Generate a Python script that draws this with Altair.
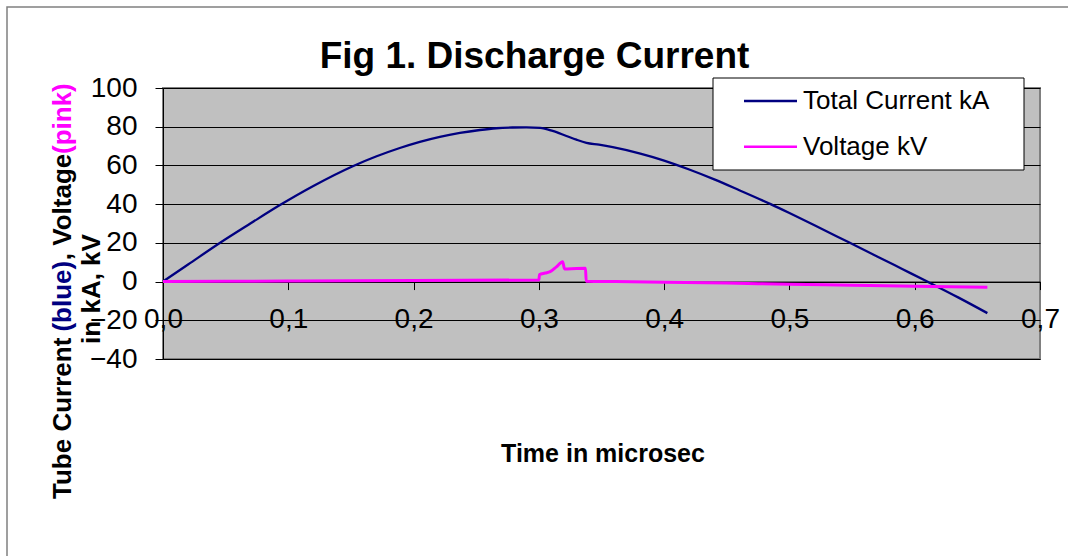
import altair as alt
import pandas as pd

# ---- data ----
series_names = ["Total Current kA", "Voltage kV"]
series_colors = ["#000080", "#FF00FF"]

t_current = [0, 0.02, 0.045, 0.07, 0.093, 0.12, 0.1515, 0.17, 0.189, 0.205, 0.221, 0.237,
             0.253, 0.266, 0.279, 0.29, 0.301, 0.311, 0.322, 0.33, 0.338, 0.348, 0.359,
             0.381, 0.40, 0.42, 0.44, 0.46, 0.485, 0.50, 0.52, 0.547, 0.57, 0.59, 0.61,
             0.635, 0.658]
i_current = [0, 8.8, 19.8, 30.1, 39.4, 49.4, 59.6, 64.6, 69.0, 72.2, 74.8, 76.8,
             78.3, 79.2, 79.6, 79.7, 79.4, 77.8, 75.2, 73.3, 71.7, 70.7, 69.4,
             66.1, 62.5, 57.9, 52.8, 47.2, 40.0, 35.4, 29.1, 20.4, 13.0, 6.5, 0,
             -8.3, -16.3]

t_voltage = [0, 0.1, 0.2, 0.3, 0.3005, 0.305, 0.309, 0.314, 0.319, 0.3205, 0.33, 0.3372,
             0.3378, 0.36, 0.40, 0.45, 0.50, 0.55, 0.60, 0.658]
v_voltage = [0, 0.3, 0.6, 0.8, 3.6, 4.4, 5.1, 7.6, 10.3, 6.5, 6.8, 6.9,
             0.2, 0, -0.3, -0.8, -1.4, -1.9, -2.4, -2.9]

x_ticks = [0.0, 0.1, 0.2, 0.3, 0.4, 0.5, 0.6, 0.7]
y_ticks = [-40, -20, 0, 20, 40, 60, 80, 100]

chart_title = "Fig 1. Discharge Current"
x_title = "Time in microsec"
y_title_parts = [("Tube Current", "black"), ("(blue)", "#000080"),
                 (", Voltage", "black"), ("(pink)", "#FF00FF")]
y_title_line2 = "in kA, kV"

df_current = pd.DataFrame({"t": t_current, "v": i_current, "series": series_names[0]})
df_voltage = pd.DataFrame({"t": t_voltage, "v": v_voltage, "series": series_names[1]})

W, H = 877, 271
YMIN, YMAX = -40, 100
zero_offset = -H * (0 - YMIN) / (YMAX - YMIN)
FONT = "Liberation Sans"


def one():
    return pd.DataFrame({"a": [0]})


x_enc = alt.X("t:Q", scale=alt.Scale(domain=[0, 0.7], nice=False, zero=False),
              axis=alt.Axis(values=x_ticks, offset=zero_offset, grid=False, title=None,
                            tickSize=8, tickColor="black", domainColor="black",
                            labelPadding=16, labelFontSize=28, labelFont=FONT, labelColor="black",
                            labelFlush=False, labelOverlap=False,
                            labelExpr="replace(format(datum.value, '.1f'), '.', ',')"))
y_enc = alt.Y("v:Q", scale=alt.Scale(domain=[YMIN, YMAX], nice=False, zero=False),
              axis=alt.Axis(values=y_ticks, grid=True, gridColor="black", gridWidth=1, gridOpacity=1,
                            title=None, tickSize=8, tickColor="black", domainColor="black",
                            labelPadding=18, labelFontSize=28, labelFont=FONT, labelColor="black",
                            labelFlush=False, labelOverlap=False))
c_enc = alt.Color("series:N", scale=alt.Scale(domain=series_names, range=series_colors), legend=None)

# outer chart-area border (only left/top visible in the frame)
border = alt.Chart(one()).mark_rect(filled=False, stroke="#808080", strokeWidth=1.5).encode(
    x=alt.value(-156), x2=alt.value(1300), y=alt.value(-81), y2=alt.value(800)
)

line_current = alt.Chart(df_current).mark_line(strokeWidth=2.3, interpolate="monotone").encode(
    x=x_enc, y=y_enc, color=c_enc)
line_voltage = alt.Chart(df_voltage).mark_line(strokeWidth=3, interpolate="monotone").encode(
    x=x_enc, y=y_enc, color=c_enc)

layers = [border, line_current, line_voltage]

# legend (Excel-style box)
layers.append(alt.Chart(one()).mark_rect(fill="white", stroke="black", strokeWidth=1).encode(
    x=alt.value(550), x2=alt.value(861), y=alt.value(-10), y2=alt.value(82)))
for i, (name, col) in enumerate(zip(series_names, series_colors)):
    yy = 13 + 45.7 * i
    layers.append(alt.Chart(one()).mark_rule(color=col, strokeWidth=2.5).encode(
        x=alt.value(581), x2=alt.value(634), y=alt.value(yy)))
    layers.append(alt.Chart(one()).mark_text(text=name, align="left", baseline="middle",
                                             fontSize=26, font=FONT, color="black").encode(
        x=alt.value(640), y=alt.value(yy)))

# chart title
layers.append(alt.Chart(one()).mark_text(text=chart_title, align="center", baseline="alphabetic",
                                         fontSize=37, fontWeight="bold", font=FONT, color="black").encode(
    x=alt.value(371.5), y=alt.value(-20)))
# x title
layers.append(alt.Chart(one()).mark_text(text=x_title, align="center", baseline="alphabetic",
                                         fontSize=25, fontWeight="bold", font=FONT, color="black").encode(
    x=alt.value(440), y=alt.value(374)))

# y title, line 1 (multicolour pieces placed bottom-to-top)
y_starts = [411, 243.6, 172.2, 66.0]
for (txt, col), ys in zip(y_title_parts, y_starts):
    layers.append(alt.Chart(one()).mark_text(text=txt, align="left", baseline="alphabetic", angle=270,
                                             fontSize=26, fontWeight="bold", font=FONT, color=col).encode(
        x=alt.value(-92), y=alt.value(ys)))
# y title, line 2
layers.append(alt.Chart(one()).mark_text(text=y_title_line2, align="center", baseline="alphabetic", angle=270,
                                         fontSize=26, fontWeight="bold", font=FONT, color="black").encode(
    x=alt.value(-63), y=alt.value(201)))

chart = alt.layer(*layers).properties(
    width=W, height=H,
    autosize=alt.AutoSizeParams(type="none"),
    padding={"left": 163, "top": 88, "right": 28, "bottom": 197},
    background="white",
).configure(font=FONT).configure_view(fill="#C0C0C0", stroke="#808080", strokeWidth=2)

chart.save("out.html", embed_options={"renderer": "svg", "actions": False})
